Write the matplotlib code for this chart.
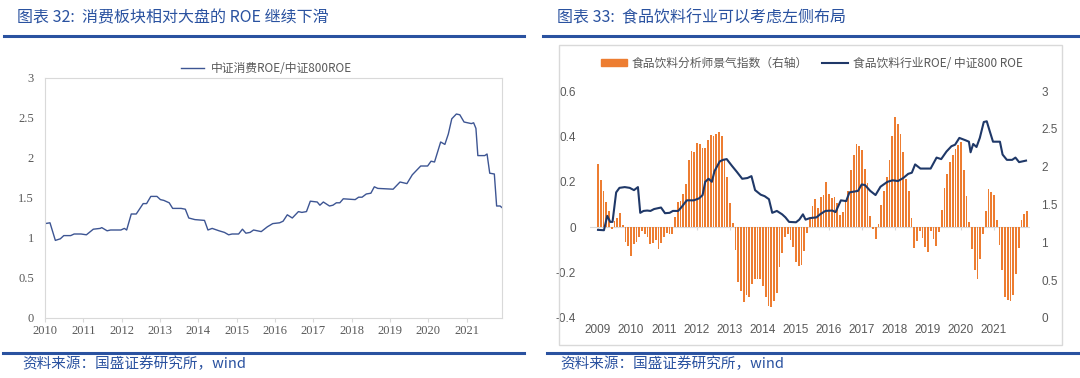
"""
Two ROE comparison panels (consumer / food & beverage vs CSI 800)
"""

import numpy as np
import matplotlib
matplotlib.use("Agg")
import matplotlib.pyplot as plt
from matplotlib.patches import Rectangle, Patch
from matplotlib.lines import Line2D

plt.rcParams['font.family'] = ['Noto Sans CJK SC', 'DejaVu Sans']

W, H = 1080, 378
BLUE = '#2a52a0'
GRAY = '#595959'
LIGHT = '#d9d9d9'

# ---- left panel: 中证消费ROE / 中证800ROE
cons_t = [2010.00, 2010.13, 2010.27, 2010.40, 2010.49, 2010.67, 2010.76, 2010.94, 2011.08, 2011.26,
          2011.44, 2011.48, 2011.62, 2011.71, 2011.98, 2012.07, 2012.13, 2012.25, 2012.38, 2012.56,
          2012.65, 2012.76, 2012.92, 2013.01, 2013.10, 2013.24, 2013.33, 2013.46, 2013.55, 2013.66,
          2013.75, 2013.91, 2014.16, 2014.25, 2014.36, 2014.54, 2014.68, 2014.79, 2014.88, 2015.05,
          2015.15, 2015.24, 2015.35, 2015.44, 2015.64, 2015.80, 2015.94, 2016.12, 2016.21, 2016.32,
          2016.45, 2016.61, 2016.70, 2016.82, 2016.92, 2017.10, 2017.17, 2017.26, 2017.42, 2017.51,
          2017.60, 2017.69, 2017.78, 2018.09, 2018.18, 2018.27, 2018.38, 2018.50, 2018.59, 2018.68,
          2019.08, 2019.26, 2019.44, 2019.58, 2019.80, 2019.98, 2020.07, 2020.16, 2020.32, 2020.43,
          2020.52, 2020.61, 2020.73, 2020.82, 2020.93, 2021.12, 2021.18, 2021.24, 2021.29, 2021.47,
          2021.53, 2021.60, 2021.72, 2021.78, 2021.87, 2021.92]
cons_ratio = [1.18, 1.19, 0.97, 0.99, 1.03, 1.03, 1.05, 1.05, 1.04, 1.11,
              1.12, 1.13, 1.09, 1.10, 1.10, 1.12, 1.10, 1.30, 1.30, 1.43,
              1.43, 1.52, 1.52, 1.48, 1.47, 1.44, 1.37, 1.37, 1.37, 1.36,
              1.25, 1.23, 1.22, 1.10, 1.12, 1.09, 1.07, 1.04, 1.05, 1.05,
              1.11, 1.06, 1.07, 1.10, 1.08, 1.14, 1.18, 1.19, 1.21, 1.29,
              1.25, 1.33, 1.32, 1.33, 1.46, 1.45, 1.41, 1.45, 1.40, 1.41,
              1.44, 1.44, 1.49, 1.48, 1.51, 1.51, 1.55, 1.56, 1.64, 1.62,
              1.61, 1.70, 1.68, 1.79, 1.90, 1.90, 1.96, 1.95, 2.20, 2.17,
              2.30, 2.49, 2.55, 2.54, 2.45, 2.43, 2.44, 2.37, 2.03, 2.03,
              2.05, 1.81, 1.80, 1.40, 1.40, 1.38]
left_years = list(range(2010, 2022))
left_yticks = [0, 0.5, 1, 1.5, 2, 2.5, 3]

# ---- right panel: monthly sentiment bars (from 2009-01) + ROE ratio line
sent_start = 2009
sentiment = [0.28, 0.21, 0.16, 0.11, 0.07, -0.006, 0.026, 0.04, 0.063, 0.01,
             -0.063, -0.083, -0.128, -0.073, -0.063, -0.044, -0.015, -0.03, -0.044, -0.073,
             -0.069, -0.058, -0.095, -0.069, -0.041, -0.026, -0.032, -0.032,
             0.045, 0.11, 0.117, 0.146, 0.19, 0.296, 0.336, 0.333, 0.369, 0.365,
             0.35, 0.35, 0.384, 0.404, 0.40, 0.41, 0.419, 0.40, 0.30, 0.22, 0.107, 0.02,
             -0.10, -0.24, -0.28, -0.33, -0.30, -0.306, -0.25, -0.23, -0.23, -0.23,
             -0.26, -0.306, -0.346, -0.35, -0.324, -0.29, -0.175, -0.114, -0.044, -0.032,
             -0.058, -0.088, -0.153, -0.172, -0.168, -0.105, -0.026,
             0.034, 0.095, 0.126, 0.085, 0.131, 0.143, 0.197, 0.147, 0.128, 0.131,
             0.105, 0.055, 0.067, 0.11, 0.158, 0.25, 0.318, 0.366, 0.359, 0.34,
             0.257, 0.194, 0.051,
             -0.01, -0.05,
             0.015, 0.1, 0.158, 0.223, 0.296, 0.4, 0.486, 0.454, 0.41, 0.333, 0.213, 0.16, 0.04,
             -0.093, -0.061, -0.015, -0.047, -0.088, -0.11, -0.015, -0.054, -0.083, -0.02,
             0.077, 0.172, 0.234, 0.289, 0.318, 0.345, 0.362, 0.377, 0.25, 0.139, 0.022,
             -0.095, -0.19, -0.23, -0.139, -0.032,
             0.073, 0.168, 0.153, 0.143, 0.03,
             -0.077, -0.19, -0.307, -0.32, -0.326, -0.30, -0.204, -0.09,
             0.032, 0.058, 0.07]
food_t = [2009.00, 2009.18, 2009.28, 2009.37, 2009.44, 2009.55, 2009.65, 2009.81, 2009.96, 2010.09,
          2010.21, 2010.28, 2010.38, 2010.49, 2010.59, 2010.70, 2010.91, 2011.03, 2011.17, 2011.27,
          2011.43, 2011.54, 2011.69, 2011.90, 2012.06, 2012.17, 2012.25, 2012.35, 2012.45, 2012.53,
          2012.69, 2012.79, 2012.90, 2013.06, 2013.21, 2013.37, 2013.53, 2013.65, 2013.76, 2013.93,
          2014.05, 2014.18, 2014.28, 2014.42, 2014.58, 2014.68, 2014.79, 2015.00, 2015.10, 2015.21,
          2015.29, 2015.42, 2015.62, 2015.73, 2015.89, 2016.10, 2016.20, 2016.36, 2016.52, 2016.62,
          2016.88, 2016.99, 2017.09, 2017.25, 2017.41, 2017.56, 2017.77, 2017.93, 2018.09, 2018.25,
          2018.40, 2018.51, 2018.61, 2018.77, 2019.08, 2019.26, 2019.40, 2019.56, 2019.71, 2019.82,
          2019.95, 2020.13, 2020.24, 2020.29, 2020.37, 2020.47, 2020.57, 2020.69, 2020.78, 2020.87,
          2020.97, 2021.18, 2021.26, 2021.39, 2021.55, 2021.65, 2021.76, 2021.97]
food_ratio = [1.165, 1.16, 1.35, 1.27, 1.27, 1.66, 1.72, 1.73, 1.72, 1.69,
              1.73, 1.39, 1.415, 1.42, 1.415, 1.44, 1.46, 1.385, 1.39, 1.415,
              1.415, 1.47, 1.555, 1.555, 1.58, 1.625, 1.80, 1.84, 1.80, 1.94,
              2.07, 2.09, 2.10, 2.01, 1.93, 1.84, 1.85, 1.875, 1.69, 1.63,
              1.61, 1.57, 1.39, 1.415, 1.37, 1.33, 1.27, 1.265, 1.30, 1.37,
              1.30, 1.32, 1.33, 1.37, 1.415, 1.42, 1.40, 1.555, 1.545, 1.66,
              1.68, 1.765, 1.757, 1.68, 1.625, 1.735, 1.80, 1.82, 1.81, 1.85,
              1.905, 1.92, 2.03, 1.975, 1.975, 2.12, 2.10, 2.20, 2.27, 2.29,
              2.38, 2.35, 2.33, 2.19, 2.30, 2.26, 2.38, 2.59, 2.60, 2.47,
              2.33, 2.33, 2.16, 2.09, 2.09, 2.12, 2.06, 2.08]
right_years = list(range(2009, 2022))
bar_yticks = [-0.4, -0.2, 0, 0.2, 0.4, 0.6]
line_yticks = [0, 0.5, 1, 1.5, 2, 2.5, 3]


def px_axes(fig, x0, y0, x1, y1):
    """axes from pixel box (top-left origin)"""
    return fig.add_axes([x0 / W, 1 - y1 / H, (x1 - x0) / W, (y1 - y0) / H])


def hline(fig, x0, x1, y, **kw):
    fig.add_artist(Line2D([x0 / W, x1 / W], [1 - y / H, 1 - y / H],
                          transform=fig.transFigure, **kw))


fig = plt.figure(figsize=(W / 100, H / 100), dpi=100)

# headers and footers
fig.text(17 / W, 1 - 18 / H, '图表 32:  消费板块相对大盘的 ROE 继续下滑', color=BLUE,
         fontsize=11.5, va='center', style='italic')
fig.text(557 / W, 1 - 18 / H, '图表 33:  食品饮料行业可以考虑左侧布局', color=BLUE,
         fontsize=11.5, va='center', style='italic')
hline(fig, 4, 524, 36, color=BLUE, lw=2.2)
hline(fig, 543, 1080, 36, color=BLUE, lw=2.2)
hline(fig, 3, 524, 353, color=BLUE, lw=2.2)
hline(fig, 547, 1080, 353, color=BLUE, lw=2.2)
fig.text(22 / W, 1 - 364 / H, '资料来源：国盛证券研究所，wind', color=BLUE,
         fontsize=10.5, va='center', style='italic')
fig.text(560 / W, 1 - 364 / H, '资料来源：国盛证券研究所，wind', color=BLUE,
         fontsize=10.5, va='center', style='italic')

# ---- left chart
ax1 = px_axes(fig, 45, 78, 502, 318)
ax1.plot(cons_t, cons_ratio, color='#3d5593', lw=1.0, label='中证消费ROE/中证800ROE')
ax1.set_xlim(2010, 2021.92)
ax1.set_ylim(0, 3)
ax1.set_yticks(left_yticks)
ax1.set_yticklabels([f'{v:g}' for v in left_yticks])
ax1.set_xticks(left_years)
ax1.set_xticklabels([str(y) for y in left_years])
for s in ax1.spines.values():
    s.set_color(LIGHT)
ax1.tick_params(axis='y', length=0, pad=8, labelsize=9, labelcolor=GRAY)
ax1.tick_params(axis='x', length=3, color=LIGHT, pad=2, labelsize=9, labelcolor=GRAY)
for lab in ax1.get_xticklabels() + ax1.get_yticklabels():
    lab.set_family(['Liberation Serif', 'DejaVu Serif'])
ax1.legend(loc='center', bbox_to_anchor=(0.484, 1.0375), frameon=False,
           fontsize=8.5, labelcolor=GRAY, handlelength=2.0, handletextpad=0.5,
           borderpad=0, borderaxespad=0)

# ---- right chart
fig.add_artist(Rectangle((559 / W, 1 - 345 / H), (1062 - 559) / W, (345 - 45) / H,
                         transform=fig.transFigure, fill=False, ec=LIGHT, lw=1))
ax2 = px_axes(fig, 590, 91, 1030, 318)
bar_x = sent_start + np.arange(len(sentiment)) / 12
ax2.axhline(0, color=LIGHT, lw=0.8, zorder=1)
ax2.vlines(right_years, -0.012, 0, color=LIGHT, lw=0.8, zorder=1)
ax2.bar(bar_x, sentiment, width=0.62 / 12, color='#ed7d31', zorder=2)
ax2.set_xlim(2009 + (590 - 598) / 33, 2009 + (1030 - 598) / 33)
ax2.set_ylim(-0.4, 0.6)
ax2.set_yticks(bar_yticks)
ax2.set_yticklabels([f'{v:g}' for v in bar_yticks])
ax2.set_xticks(right_years)
ax2.set_xticklabels([str(y) for y in right_years])

ax2r = ax2.twinx()
ax2r.plot(food_t, food_ratio, color='#1f3868', lw=1.5)
ax2r.set_ylim(0, 3)
ax2r.set_yticks(line_yticks)
ax2r.set_yticklabels([f'{v:g}' for v in line_yticks])

for a in (ax2, ax2r):
    for s in a.spines.values():
        s.set_visible(False)
    a.tick_params(length=0, labelsize=8.5, labelcolor=GRAY)
    for lab in a.get_xticklabels() + a.get_yticklabels():
        lab.set_family(['Liberation Sans', 'DejaVu Sans'])
ax2.tick_params(axis='y', pad=10)
ax2r.tick_params(axis='y', pad=8)
ax2.tick_params(axis='x', pad=4)

handles = [Patch(color='#ed7d31'), Line2D([], [], color='#1f3868', lw=1.5)]
labels = ['食品饮料分析师景气指数（右轴）', '食品饮料行业ROE/ 中证800 ROE']
ax2.legend(handles, labels, loc='center', bbox_to_anchor=(0.505, 1.123), ncol=2,
           frameon=False, fontsize=8.5, labelcolor=GRAY, handlelength=2.2,
           handleheight=0.6, handletextpad=0.4, columnspacing=1.2,
           borderpad=0, borderaxespad=0)

fig.savefig('out.png', dpi=100)
